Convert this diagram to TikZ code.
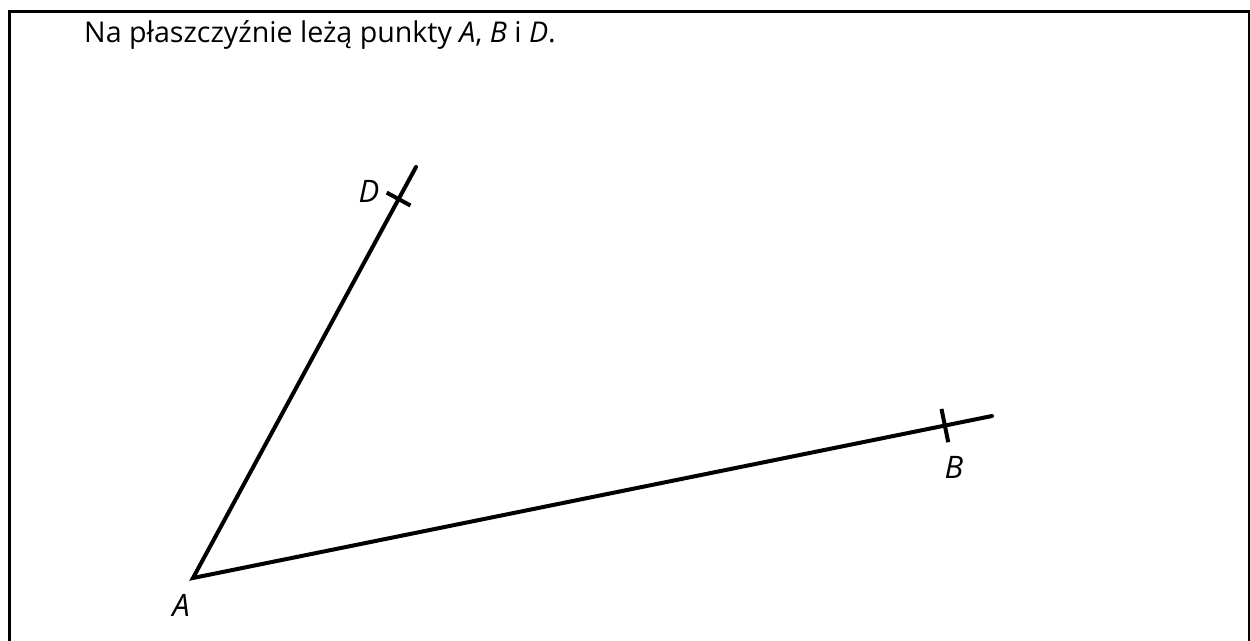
\documentclass[tikz,border=0pt]{standalone}
\usepackage{fontspec}
\setmainfont{Open Sans}
\usetikzlibrary{calc}
\tikzset{
  seg/.style={line width=4pt, line cap=round},
  tickmark/.style={line width=4pt},
  frameline/.style={line width=3pt},
  ptlabel/.style={font=\fontsize{31}{36}\selectfont\itshape, inner sep=0pt},
}
\begin{document}
\begin{tikzpicture}[x=1pt,y=-1pt]
\useasboundingbox (0,0) rectangle (1250,640);
\clip (0,0) rectangle (1250,640);
\draw[frameline] (9.5,660) -- (9.5,11.5) -- (1249,11.5) -- (1249,660);
\node[anchor=base west, inner sep=0pt, font=\fontsize{28.6}{34}\selectfont] (title) at (84,42)
  {Na płaszczyźnie leżą punkty \textit{A}, \textit{B} i \textit{D}.};
\coordinate (A) at (193,578);
\coordinate (Dend) at (416,167);
\coordinate (Bend) at (992,416);
\coordinate (D) at ($(A)!0.922!(Dend)$);
\coordinate (B) at ($(A)!0.941!(Bend)$);
\draw[seg] (Dend) -- (A) -- (Bend);
\draw[tickmark] ($(D)!13.5pt!90:(A)$) -- ($(D)!13.5pt!-90:(A)$);
\draw[tickmark] ($(B)!17pt!90:(A)$) -- ($(B)!17pt!-90:(A)$);
\node[ptlabel] (Dl) at (369,191) {D};
\node[ptlabel] (Bl) at (954,467) {B};
\node[ptlabel] (Al) at (181,605) {A};
\end{tikzpicture}
\end{document}
